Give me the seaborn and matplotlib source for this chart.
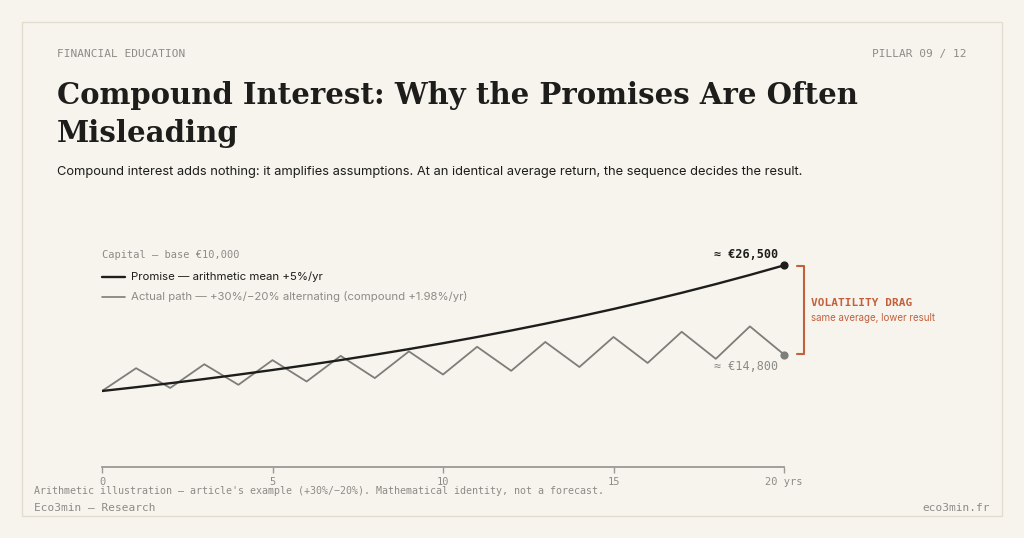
import matplotlib
matplotlib.use("Agg")
import matplotlib.pyplot as plt
from matplotlib.lines import Line2D
from matplotlib.patches import Rectangle
import pandas as pd
import seaborn as sns

# --------------------------------------------------------------------------- #
# Data
# --------------------------------------------------------------------------- #
years = list(range(0, 21))
promise = [10000, 10500, 11025, 11576, 12155, 12763, 13401, 14071, 14775, 15513,
           16289, 17103, 17959, 18856, 19799, 20789, 21829, 22920, 24066, 25270, 26533]
actual = [10000, 13000, 10400, 13520, 10816, 14061, 11249, 14623, 11699, 15209,
          12167, 15817, 12653, 16449, 13159, 17107, 13686, 17791, 14233, 18503, 14802]
xticks = [0, 5, 10, 15, 20]
xtick_labels = ["0", "5", "10", "15", "20 yrs"]

BG = "#f7f4ee"
DARK = "#1d1d1b"
GREY = "#7d7d7a"
MUTED = "#8c8b87"
ORANGE = "#c2603c"
MONO = "DejaVu Sans Mono"
SANS = "Inter"
SERIF = "DejaVu Serif"

sns.set_theme(style="white")
plt.rcParams["font.family"] = [SANS, "DejaVu Sans"]

W, H = 1024, 538
fig = plt.figure(figsize=(W / 100, H / 100), dpi=100, facecolor=BG)


def fx(px):
    return px / W


def fy(py):
    return 1 - py / H


def txt(x, y, s, **kw):
    kw.setdefault("va", "center")
    return fig.text(fx(x), fy(y), s, **kw)


# card border
fig.patches.append(Rectangle((fx(22), fy(516)), fx(1002) - fx(22), fy(22) - fy(516),
                             transform=fig.transFigure, facecolor="none",
                             edgecolor="#e3ddd0", lw=1.0, zorder=-1))

# header
txt(57, 54, "FINANCIAL EDUCATION", family=MONO, fontsize=8, color=MUTED)
txt(966, 54, "PILLAR 09 / 12", family=MONO, fontsize=8, color=MUTED, ha="right")
txt(57, 95, "Compound Interest: Why the Promises Are Often", family=SERIF,
    fontsize=21, fontweight="bold", color=DARK)
txt(57, 133, "Misleading", family=SERIF, fontsize=21, fontweight="bold", color=DARK)
txt(57, 172, "Compound interest adds nothing: it amplifies assumptions. At an identical "
    "average return, the sequence decides the result.", fontsize=9.3, color=DARK)

# chart
ax = fig.add_axes([fx(102), fy(467), fx(784) - fx(102), fy(239) - fy(467)])
ax.set_facecolor("none")
ax.set_zorder(2)
df = pd.DataFrame({"year": years, "promise": promise, "actual": actual})
sns.lineplot(data=df, x="year", y="actual", ax=ax, color=GREY, lw=1.3, zorder=2)
sns.lineplot(data=df, x="year", y="promise", ax=ax, color=DARK, lw=1.7, zorder=3)
ax.scatter([years[-1]], [promise[-1]], s=24, color=DARK, zorder=4, clip_on=False)
ax.scatter([years[-1]], [actual[-1]], s=24, color=GREY, zorder=4, clip_on=False)
ax.set_xlim(0, 20)
ax.set_ylim(0, 30000)
ax.set_xlabel("")
ax.set_ylabel("")
ax.set_yticks([])
ax.set_xticks(xticks)
ax.set_xticklabels(xtick_labels, family=MONO, fontsize=7.5, color=MUTED)
for side in ["top", "right", "left"]:
    ax.spines[side].set_visible(False)
ax.spines["bottom"].set_color("#9a9995")
ax.spines["bottom"].set_linewidth(1.3)
ax.tick_params(axis="x", bottom=True, length=4, width=1, color="#9a9995", pad=3)

# labels in chart
txt(102, 255, "Capital — base €10,000", family=MONO, fontsize=7.5, color=MUTED)
fig.lines.append(Line2D([fx(102), fx(125)], [fy(277), fy(277)], transform=fig.transFigure,
                        color=DARK, lw=1.7))
txt(131, 277, "Promise — arithmetic mean +5%/yr", fontsize=8.2, color=DARK)
fig.lines.append(Line2D([fx(102), fx(125)], [fy(297), fy(297)], transform=fig.transFigure,
                        color=GREY, lw=1.2))
txt(131, 297, "Actual path — +30%/−20% alternating (compound +1.98%/yr)",
    fontsize=8.2, color=MUTED)
txt(778, 254, "≈ €26,500", family=MONO, fontsize=8.5, fontweight="bold", color=DARK,
    ha="right")
txt(778, 367, "≈ €14,800", family=MONO, fontsize=8.5, color=MUTED, ha="right")

# volatility drag bracket
fig.lines.append(Line2D([fx(797), fx(804), fx(804), fx(797)],
                        [fy(266), fy(266), fy(354), fy(354)],
                        transform=fig.transFigure, color=ORANGE, lw=1.5))
txt(811, 303, "VOLATILITY DRAG", family=MONO, fontsize=8, fontweight="bold", color=ORANGE)
txt(811, 318, "same average, lower result", fontsize=7, color=ORANGE)

# footer
txt(34, 491, "Arithmetic illustration — article's example (+30%/−20%). "
    "Mathematical identity, not a forecast.", family=MONO, fontsize=7.2, color=MUTED)
txt(34, 508, "Eco3min — Research", family=MONO, fontsize=8, color=MUTED)
txt(990, 508, "eco3min.fr", family=MONO, fontsize=8, color=MUTED, ha="right")

fig.savefig("out.png", dpi=100, facecolor=BG)
